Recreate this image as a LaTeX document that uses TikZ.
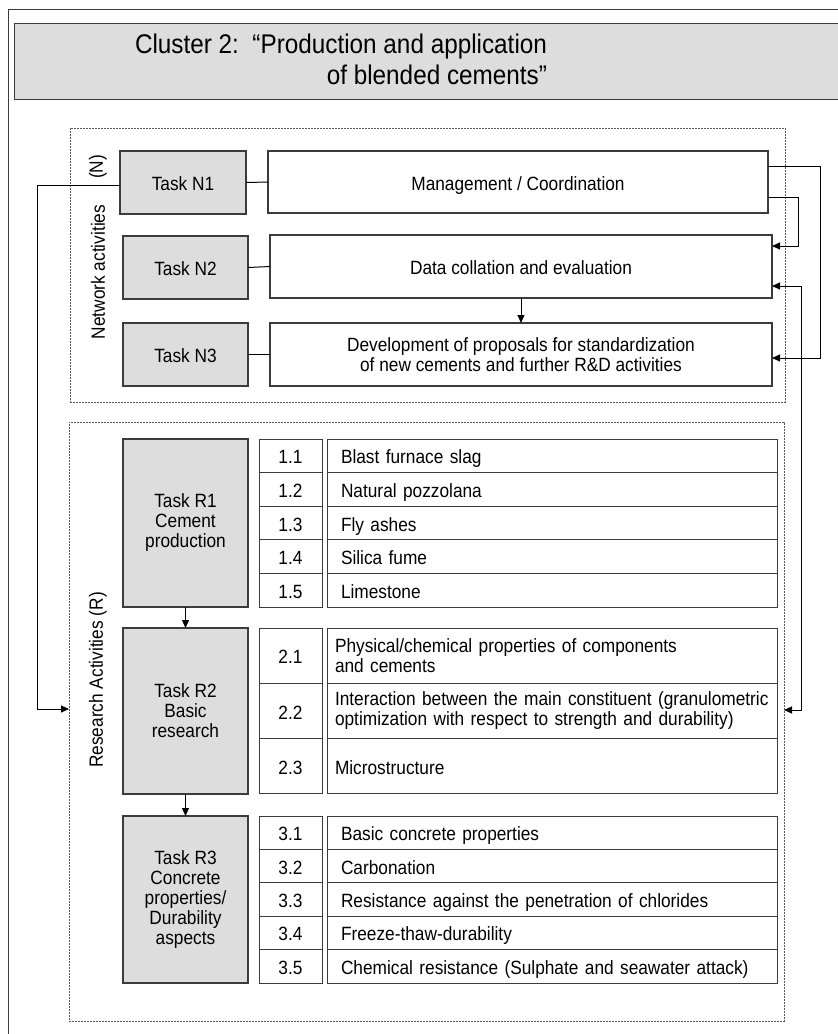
\documentclass[tikz,border=0pt]{standalone}
\usepackage{fontspec}
\setmainfont[FakeStretch=0.9]{Liberation Sans}
\usetikzlibrary{arrows.meta}
\definecolor{boxgray}{RGB}{221,221,221}
\definecolor{edgegray}{RGB}{60,60,60}
\definecolor{dashgray}{RGB}{90,90,90}
\begin{document}
\begin{tikzpicture}[x=1pt,y=-1pt,
  every node/.style={font=\fontsize{19.2}{20}\selectfont, inner sep=0pt, outer sep=0pt},
  taskbox/.style={draw=edgegray, line width=1.1pt, fill=boxgray, align=center},
  plainbox/.style={draw=edgegray, line width=1.1pt, fill=white, align=center},
  dashbox/.style={draw=dashgray, line width=0.8pt, dash pattern=on 2pt off 1pt},
  oneline/.style={text height=16pt, text depth=0pt},
  numcell/.style={draw=edgegray, line width=1pt, minimum width=63pt, align=center, oneline},
  desccell/.style={draw=edgegray, line width=1pt, align=left, inner xsep=14pt, text width=422pt, oneline},
  desccellb/.style={draw=edgegray, line width=1pt, align=left, inner xsep=8pt, text width=434pt},
  conn/.style={draw=black, line width=1pt},
  arr/.style={conn, -{Triangle[length=8pt,width=7pt]}},
  arrb/.style={conn, {Triangle[length=8pt,width=7pt]}-{Triangle[length=8pt,width=7pt]}}
]
\useasboundingbox (0,0) rectangle (838,1034);
\clip (0,0) rectangle (838,1034);
\fill[white] (0,0) rectangle (838,1034);

% outer frame
\draw[draw=edgegray, line width=1pt] (8,9) rectangle (900,1100);

% title
\node[draw=edgegray, line width=1pt, fill=boxgray, minimum width=886pt, minimum height=76pt] (title) at (457,61) {};
\node[anchor=east, align=right, font=\fontsize{27}{31}\selectfont] (titletext) at (547,59)
  {Cluster 2:\ \ “Production and application\\of blended cements”};

% dashed frames
\node[dashbox, minimum width=715pt, minimum height=274pt] (netbox) at (427.5,265) {};
\node[dashbox, minimum width=715pt, minimum height=599pt] (rbox) at (426.5,721.5) {};

% side labels
\node[rotate=90] (nlbl) at (98,167) {(N)};
\node[rotate=90] (netlbl) at (98,272) {Network activities};
\node[rotate=90] (reslbl) at (98,680) {Research Activities (R)};

% network tasks
\node[taskbox, oneline, minimum width=126pt, minimum height=63pt] (n1) at (183,182.5) {Task N1};
\node[plainbox, oneline, minimum width=500pt, minimum height=62pt] (mgmt) at (518,182) {Management / Coordination};
\node[taskbox, oneline, minimum width=125pt, minimum height=63pt] (n2) at (185.5,267.5) {Task N2};
\node[plainbox, oneline, minimum width=502pt, minimum height=63pt] (dat) at (521,266.5) {Data collation and evaluation};
\node[taskbox, oneline, minimum width=125pt, minimum height=63pt] (n3) at (185.5,354.5) {Task N3};
\node[plainbox, minimum width=502pt, minimum height=63pt] (dev) at (521,354.5)
  {Development of proposals for standardization\\of new cements and further R\&D activities};

\draw[conn] (n1.east) -- (mgmt.west);
\draw[conn] (n2.east) -- (dat.west);
\draw[conn] (n3.east) -- (dev.west);
\draw[arr] (dat.south) -- (dev.north);

% right-hand connectors
\draw[arr] (mgmt.east |- 0,166) -- (820,166) |- (dev.east |- 0,358);
\draw[arr] (mgmt.east |- 0,197) -- (798,197) |- (dat.east |- 0,246);
\draw[arrb] (dat.east |- 0,286) -- (801,286) |- (rbox.east |- 0,710);

% left connector
\draw[arr] (n1.west |- 0,185) -- (37,185) |- (rbox.west |- 0,709);

% research tasks
\node[taskbox, minimum width=125pt, minimum height=168pt] (r1) at (185.5,523) {Task R1\\Cement\\production};
\node[taskbox, minimum width=125pt, minimum height=166pt] (r2) at (185.5,711) {Task R2\\Basic\\research};
\node[taskbox, minimum width=125pt, minimum height=167pt] (r3) at (185.5,899.5)
  {Task R3\\Concrete\\properties/\\Durability\\aspects};
\draw[arr] (r1.south) -- (r2.north);
\draw[arr] (r2.south) -- (r3.north);

% table 1
\node[numcell, minimum height=33.6pt] (k11) at (290.5,455.8) {1.1};
\node[numcell, minimum height=33.6pt] (k12) at (290.5,489.4) {1.2};
\node[numcell, minimum height=33.6pt] (k13) at (290.5,523.0) {1.3};
\node[numcell, minimum height=33.6pt] (k14) at (290.5,556.6) {1.4};
\node[numcell, minimum height=33.6pt] (k15) at (290.5,590.2) {1.5};
\node[desccell, minimum height=33.6pt] (d11) at (552,455.8) {Blast furnace slag};
\node[desccell, minimum height=33.6pt] (d12) at (552,489.4) {Natural pozzolana};
\node[desccell, minimum height=33.6pt] (d13) at (552,523.0) {Fly ashes};
\node[desccell, minimum height=33.6pt] (d14) at (552,556.6) {Silica fume};
\node[desccell, minimum height=33.6pt] (d15) at (552,590.2) {Limestone};

% table 2
\node[numcell, minimum height=55.3pt] (k21) at (290.5,655.7) {2.1};
\node[numcell, minimum height=55.3pt] (k22) at (290.5,711.0) {2.2};
\node[numcell, minimum height=55.3pt] (k23) at (290.5,766.3) {2.3};
\node[desccellb, minimum height=55.3pt] (d21) at (552,655.7) {Physical/chemical properties of components\\and cements};
\node[desccellb, minimum height=55.3pt] (d22) at (552,711.0) {Interaction between the main constituent (granulometric\\optimization with respect to strength and durability)};
\node[desccellb, oneline, minimum height=55.3pt] (d23) at (552,766.3) {Microstructure};

% table 3
\node[numcell, minimum height=33.4pt] (k31) at (290.5,832.7) {3.1};
\node[numcell, minimum height=33.4pt] (k32) at (290.5,866.1) {3.2};
\node[numcell, minimum height=33.4pt] (k33) at (290.5,899.5) {3.3};
\node[numcell, minimum height=33.4pt] (k34) at (290.5,932.9) {3.4};
\node[numcell, minimum height=33.4pt] (k35) at (290.5,966.3) {3.5};
\node[desccell, minimum height=33.4pt] (d31) at (552,832.7) {Basic concrete properties};
\node[desccell, minimum height=33.4pt] (d32) at (552,866.1) {Carbonation};
\node[desccell, minimum height=33.4pt] (d33) at (552,899.5) {Resistance against the penetration of chlorides};
\node[desccell, minimum height=33.4pt] (d34) at (552,932.9) {Freeze-thaw-durability};
\node[desccell, minimum height=33.4pt] (d35) at (552,966.3) {Chemical resistance (Sulphate and seawater attack)};
\end{tikzpicture}
\end{document}
